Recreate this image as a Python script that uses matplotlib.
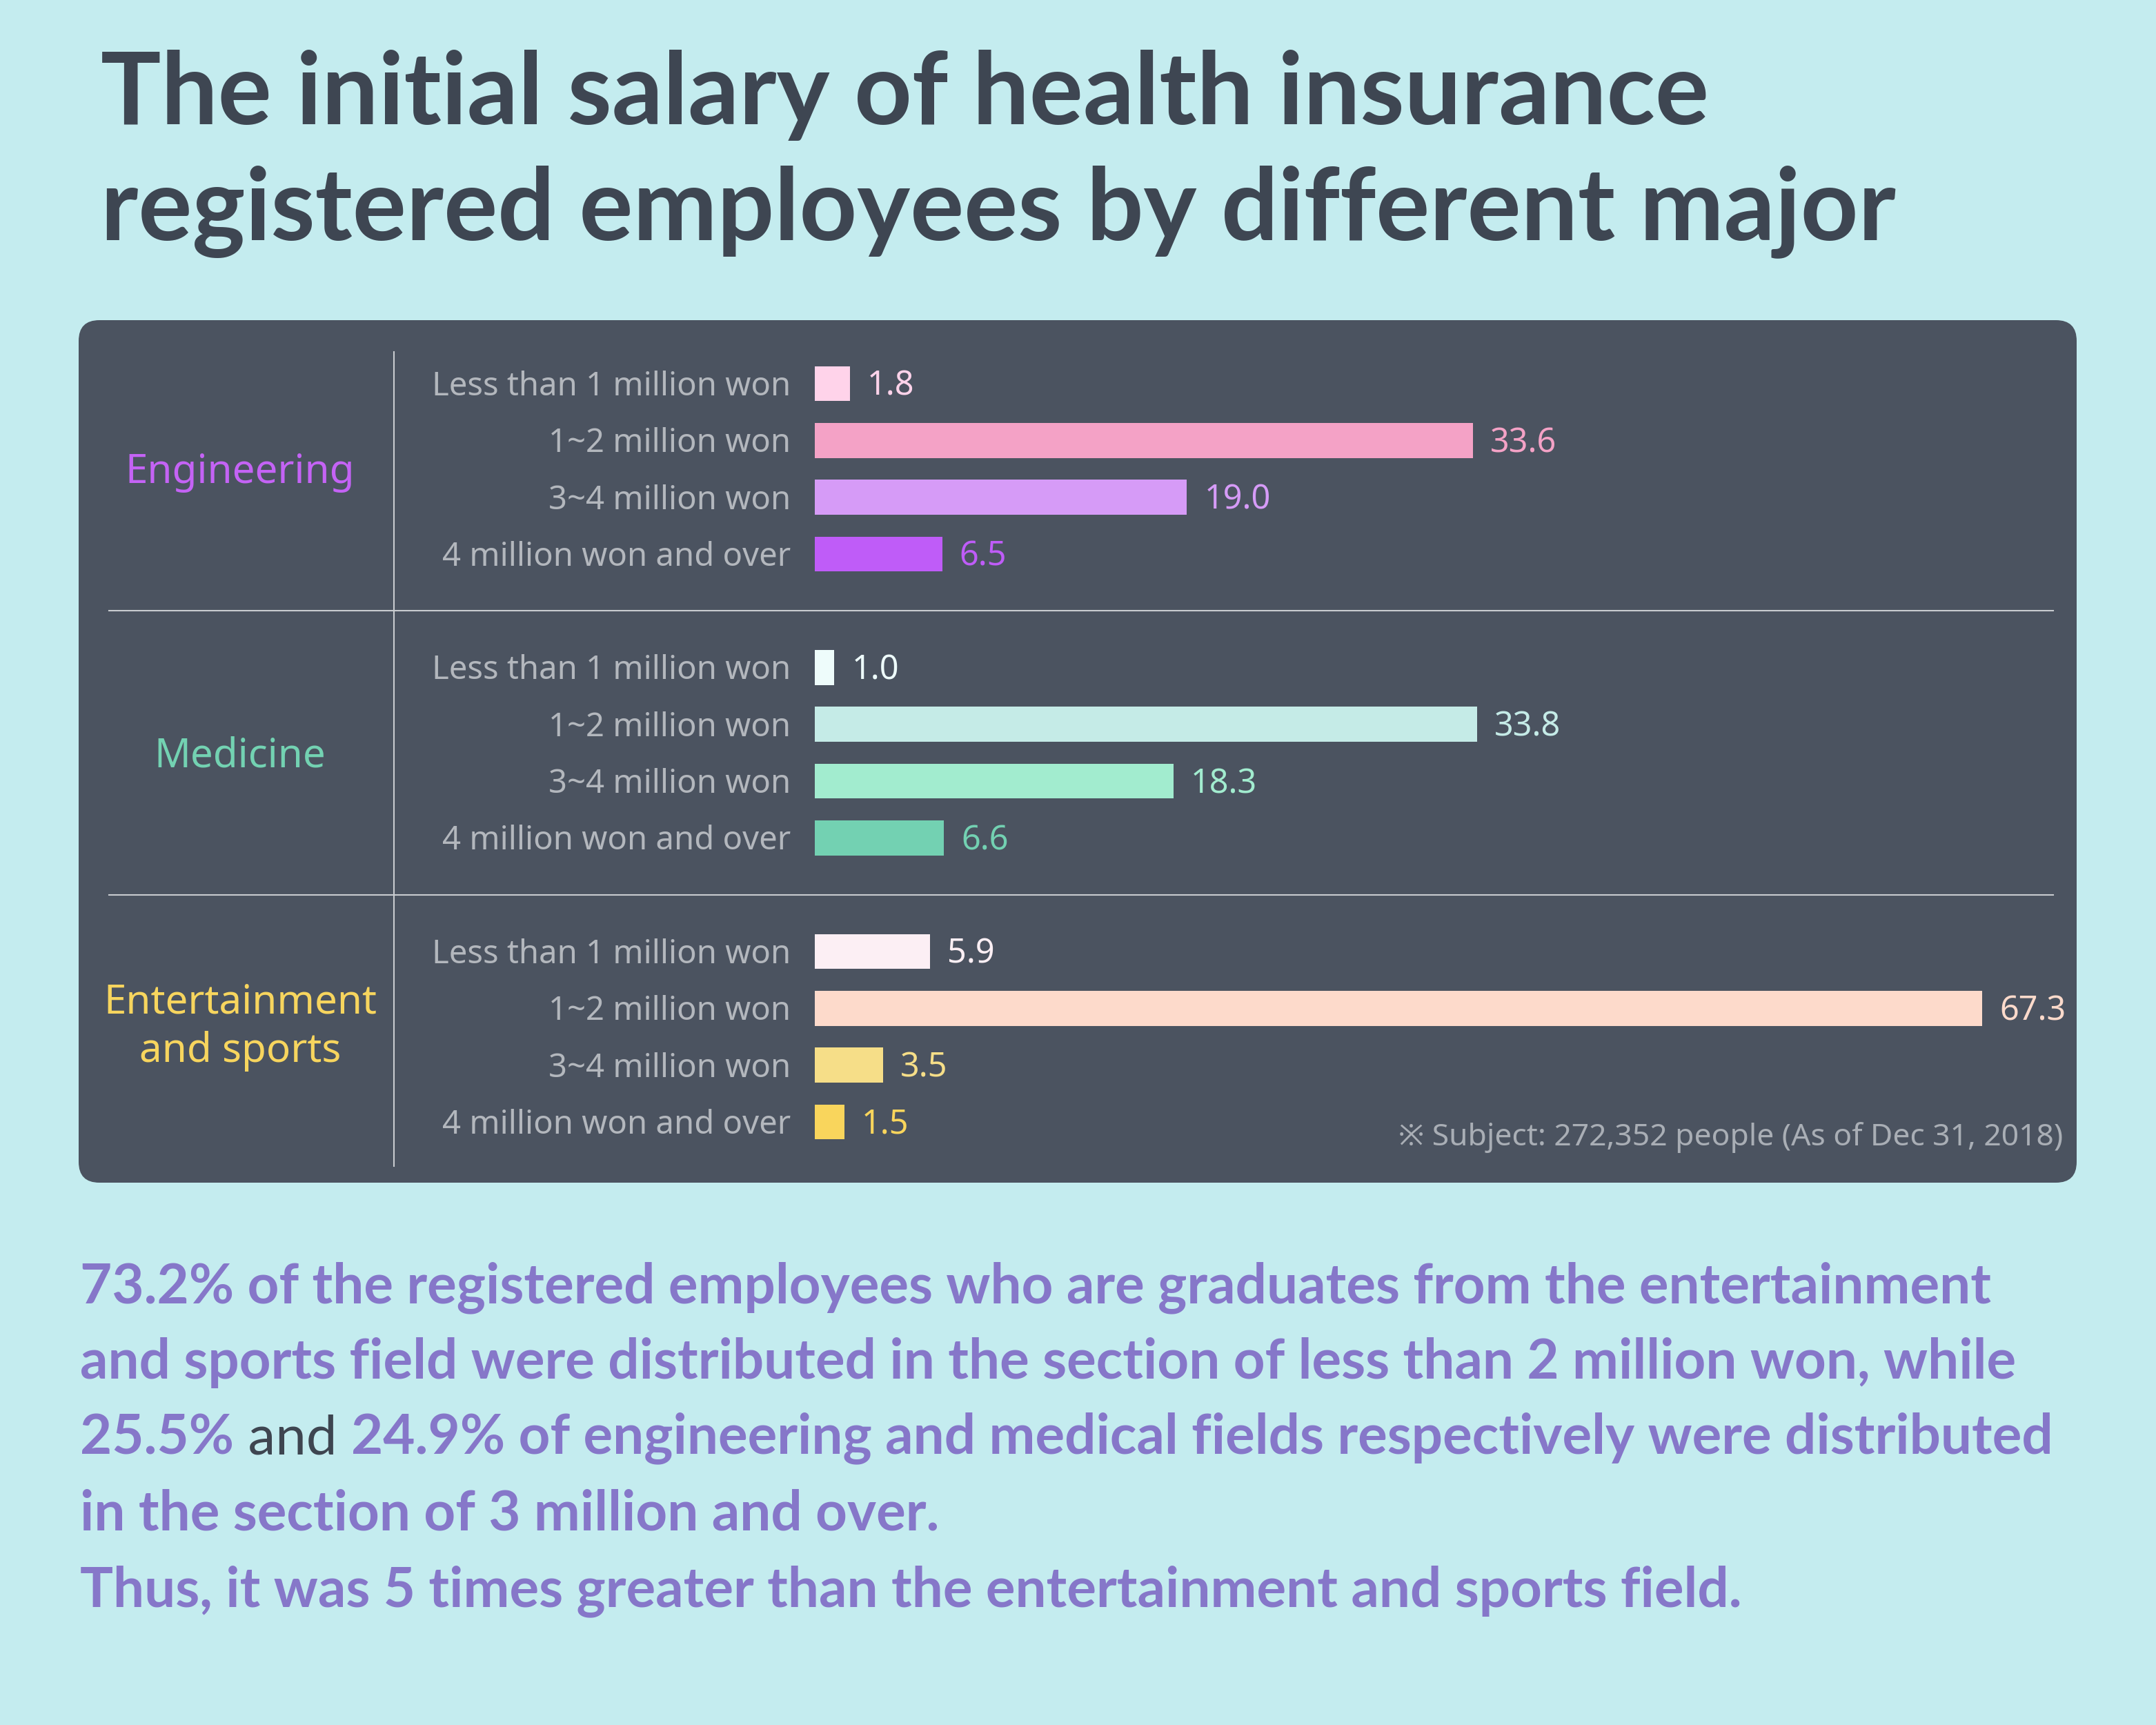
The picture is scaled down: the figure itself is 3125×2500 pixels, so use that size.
import matplotlib
matplotlib.use('Agg')
import matplotlib.pyplot as plt
import matplotlib.transforms as mtrans
from matplotlib.patches import FancyBboxPatch
import numpy as np

plt.rcParams['font.family'] = ['Noto Sans', 'Noto Sans CJK KR', 'DejaVu Sans']

# ---------------- data ----------------
title_lines = ["The initial salary of health insurance",
               "registered employees by different major"]
majors = ["Engineering", "Medicine", "Entertainment\nand sports"]
categories = ["Less than 1 million won", "1~2 million won",
              "3~4 million won", "4 million won and over"]
engineering = [1.8, 33.6, 19.0, 6.5]
medicine = [1.0, 33.8, 18.3, 6.6]
entertainment = [5.9, 67.3, 3.5, 1.5]
footnote = "※ Subject: 272,352 people (As of Dec 31, 2018)"
summary = [
    [("73.2% of the registered employees who are graduates from the entertainment", "p")],
    [("and sports field were distributed in the section of less than 2 million won, while", "p")],
    [("25.5%", "p"), (" and ", "d"), ("24.9% of engineering and medical fields respectively were distributed", "p")],
    [("in the section of 3 million and over.", "p")],
    [("Thus, it was 5 times greater than the entertainment and sports field.", "p")],
]

# ---------------- styles ----------------
BG = '#C4ECEF'
PANEL = '#4B5360'
TITLE_C = '#3E4652'
CAT_C = '#B3B7BD'
PURPLE_T = '#8677C9'
DARK_T = '#3E4550'
bar_colors = [
    ['#FFD3EA', '#F4A2C6', '#D69BF7', '#BF5CF8'],
    ['#EEFCFB', '#C5EBE7', '#A2ECCF', '#73D1B2'],
    ['#FCEFF4', '#FDDACB', '#F6DE88', '#F9D55C'],
]
major_colors = ['#C463F5', '#73D2B2', '#F7D55E']
BOLD_FAMILY = ['Lato', 'DejaVu Sans']

W, H = 3125, 2500
fig = plt.figure(figsize=(W / 100, H / 100), dpi=100, facecolor=BG)
bg = fig.add_axes([0, 0, 1, 1])
bg.set_xlim(0, W)
bg.set_ylim(H, 0)
bg.axis('off')

# panel
bg.add_patch(FancyBboxPatch((114, 464), 3010 - 114, 1714 - 464,
                            boxstyle='round,pad=0,rounding_size=30',
                            fc=PANEL, ec='none', zorder=1))

# title
for i, line in enumerate(title_lines):
    bg.text(146, 180 + i * 167, line, fontsize=105, weight='bold',
            family=BOLD_FAMILY, color=TITLE_C, va='baseline', ha='left')

# ---------------- bars ----------------
row_top, row_step = 556, 82.3
y_lo = row_top - row_step
y_hi = row_top + 14 * row_step
bax = fig.add_axes([1181 / W, 1 - y_hi / H, (2873 - 1181) / W, (y_hi - y_lo) / H])
XMAX = 59.6
bax.set_xlim(0, XMAX)
bax.set_ylim(14, -1)
bax.axis('off')

groups = [engineering, medicine, entertainment]
for g, vals in enumerate(groups):
    pos = np.arange(len(vals)) + g * 5
    bax.barh(pos, vals, height=0.615, color=bar_colors[g], zorder=3)
    for p, v, cat, c in zip(pos, vals, categories, bar_colors[g]):
        bax.annotate(cat, xy=(0, p), xytext=(-25, -12.2), textcoords='offset points',
                     ha='right', va='baseline', fontsize=34, color=CAT_C,
                     annotation_clip=False)
        bax.annotate(f'{v:.1f}', xy=(min(v, XMAX), p), xytext=(18, -12.2),
                     textcoords='offset points', ha='left', va='baseline',
                     fontsize=35, color=c, annotation_clip=False)

# group labels
tr = mtrans.blended_transform_factory(bg.transData, bax.transData)
for g, (name, col) in enumerate(zip(majors, major_colors)):
    center = g * 5 + 1.5
    lines = name.split('\n')
    if len(lines) == 1:
        offs = [-15]
    else:
        offs = [24.5, -26]
    for ln, off in zip(lines, offs):
        bax.annotate(ln, xy=(348, center), xycoords=tr, xytext=(0, off),
                     textcoords='offset points', ha='center', va='baseline',
                     fontsize=42, color=col, annotation_clip=False)

# separators
for ysep in [4, 9]:
    bax.plot([158, 2976], [ysep, ysep], transform=tr, color='#C9CCD0',
             lw=1.5, clip_on=False, zorder=2)
bg.plot([571, 571], [510, 1690], color='#C9CCD0', lw=1.5, zorder=2)

# footnote
bg.text(2990, 1660, footnote, fontsize=32, color='#A9AEB5', ha='right',
        va='baseline', zorder=3)

# ---------------- summary text ----------------
cmap = {'p': PURPLE_T, 'd': DARK_T}
for i, segs in enumerate(summary):
    y = 1888 + i * 110
    prev = None
    for txt, ck in segs:
        w = 'bold' if ck == 'p' else 'normal'
        if prev is None:
            prev = bg.text(116, y, txt, fontsize=57.5, weight=w, color=cmap[ck],
                           family=BOLD_FAMILY, ha='left', va='baseline')
        else:
            prev = bg.annotate(txt, xy=(1, 0), xycoords=prev, ha='left', va='bottom',
                               family=BOLD_FAMILY, fontsize=57.5, weight=w,
                               color=cmap[ck])

fig.savefig('out.png', dpi=100, facecolor=BG)
